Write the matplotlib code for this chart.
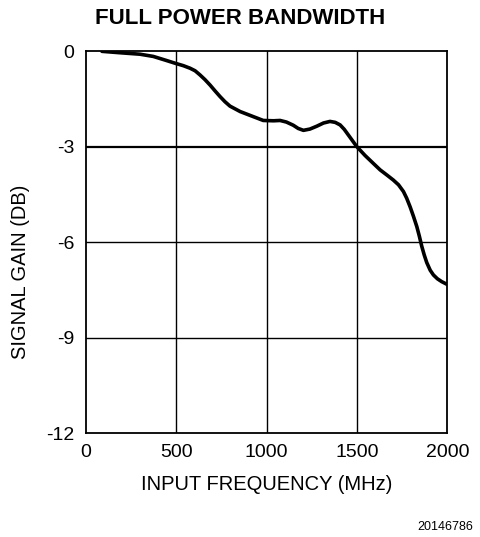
import matplotlib
matplotlib.use("Agg")
import matplotlib.pyplot as plt

plt.rcParams['font.family'] = ['Liberation Sans', 'DejaVu Sans']

# values
freq_mhz = [90, 180, 300, 374, 448, 498, 540, 577, 605, 632, 660, 688,
            715, 743, 770, 798, 854, 927, 982, 1038, 1075, 1110, 1148,
            1175, 1204, 1240, 1278, 1315, 1351, 1380, 1407, 1430, 1453,
            1476, 1499, 1545, 1591, 1628, 1665, 1701, 1730, 1757, 1775,
            1794, 1812, 1831, 1845, 1858, 1872, 1886, 1905, 1923, 1945,
            1969, 2000]
gain_db = [-0.01, -0.05, -0.10, -0.17, -0.30, -0.39, -0.46, -0.54, -0.62,
           -0.75, -0.90, -1.07, -1.25, -1.43, -1.59, -1.73, -1.90, -2.06,
           -2.18, -2.19, -2.18, -2.23, -2.33, -2.43, -2.49, -2.45, -2.36,
           -2.26, -2.21, -2.24, -2.32, -2.46, -2.64, -2.82, -3.00, -3.28,
           -3.53, -3.73, -3.89, -4.05, -4.20, -4.41, -4.62, -4.89, -5.18,
           -5.51, -5.81, -6.12, -6.40, -6.64, -6.88, -7.03, -7.15, -7.24,
           -7.33]

x_ticks = [0, 500, 1000, 1500, 2000]
y_ticks = [0, -3, -6, -9, -12]

fig = plt.figure(figsize=(4.8, 5.37), dpi=100)
ax = fig.add_axes([0.1785, 0.1931, 0.7535, 0.7119])

for xv in x_ticks[1:-1]:
    ax.axvline(xv, color='black', linewidth=1.0, zorder=1)
for yv in y_ticks[1:-1]:
    lw = 1.6 if yv == -3 else 1.0
    ax.axhline(yv, color='black', linewidth=lw, zorder=1)

ax.plot(freq_mhz, gain_db, color='black', linewidth=2.6,
        solid_capstyle='round', solid_joinstyle='round', zorder=3)

ax.set_xlim(0, 2000)
ax.set_ylim(-12, 0)
ax.set_xticks(x_ticks)
ax.set_yticks(y_ticks)
ax.set_yticklabels([str(v) for v in y_ticks])
ax.tick_params(length=0, labelsize=14, pad=8)
for s in ax.spines.values():
    s.set_linewidth(1.3)

fig.text(0.5, 1 - 18 / 537, "FULL POWER BANDWIDTH", ha='center', va='center',
         fontsize=16, fontweight='bold')
fig.text(266.5 / 480, 1 - 485 / 537, "INPUT FREQUENCY (MHz)", ha='center',
         va='center', fontsize=14.5)
fig.text(20.5 / 480, 1 - 272 / 537, "SIGNAL GAIN (DB)", ha='center',
         va='center', rotation=90, fontsize=14.5)
fig.text(473 / 480, 1 - 526.5 / 537, "20146786", ha='right', va='center',
         fontsize=9)

fig.savefig("out.png", dpi=100)
